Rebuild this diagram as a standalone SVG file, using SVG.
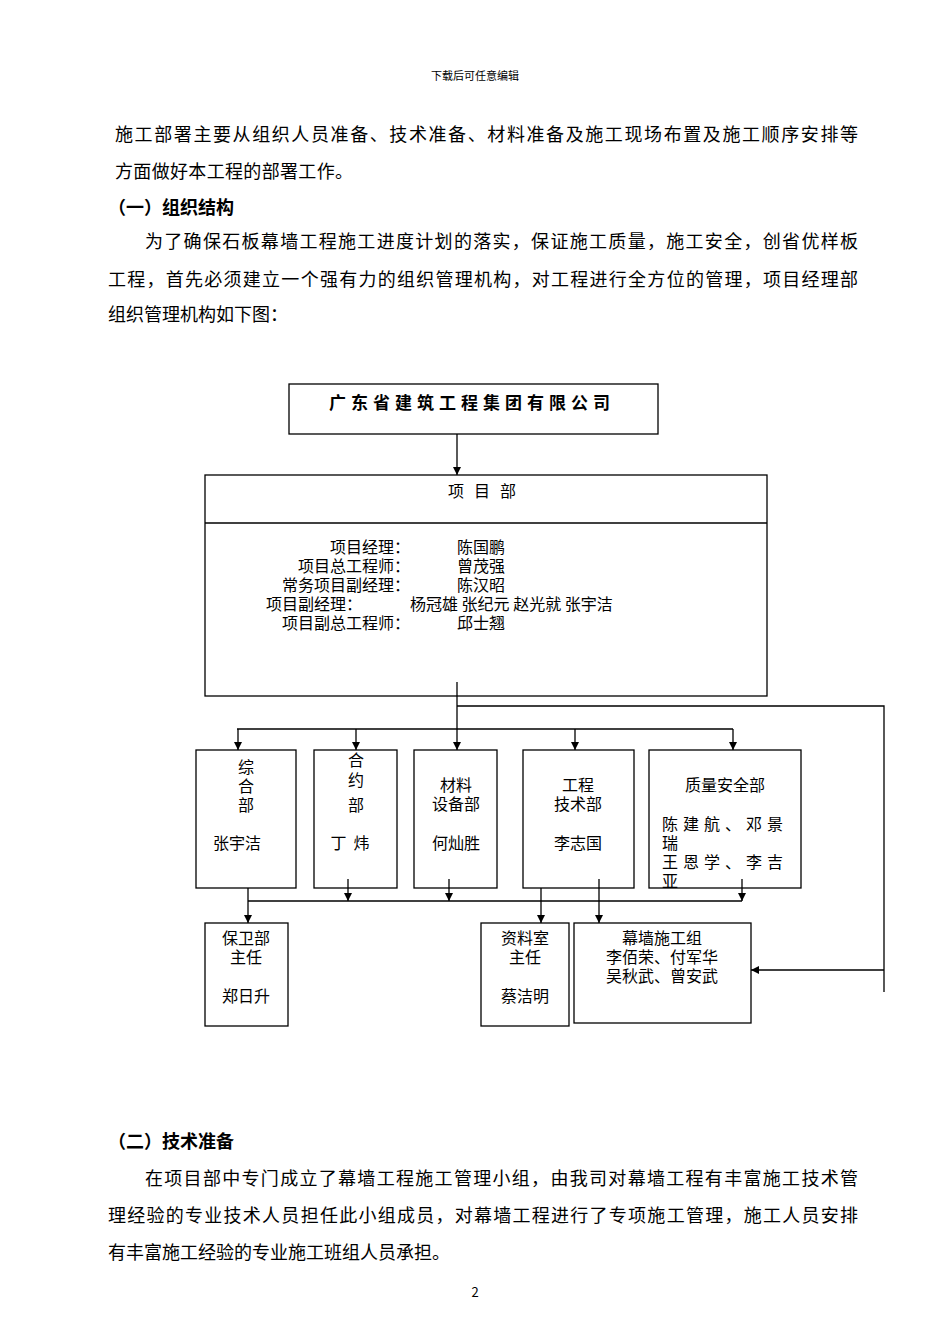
<svg xmlns="http://www.w3.org/2000/svg" width="950" height="1344" viewBox="0 0 950 1344">
<style>
text{font-family:"Noto Sans CJK SC","Noto Sans",sans-serif;fill:#000}
.p{font-size:18px}
.c{font-size:16px}
.m{text-anchor:middle}
.b{fill:#fff;stroke:#000;stroke-width:1.3}
.l{fill:none;stroke:#000;stroke-width:1.3}
</style>
<defs><marker id="a" viewBox="0 0 10 10" refX="10" refY="5" markerWidth="8" markerHeight="8" markerUnits="userSpaceOnUse" orient="auto"><path d="M0,0L10,5L0,10z"/></marker></defs>
<rect width="950" height="1344" fill="#fff"/>
<text x="475" y="80" class="m" font-size="11">下载后可任意编辑</text>
<text x="115" y="141" class="p" textLength="743">施工部署主要从组织人员准备、技术准备、材料准备及施工现场布置及施工顺序安排等</text>
<text x="115" y="178" class="p" textLength="238">方面做好本工程的部署工作。</text>
<text x="108" y="214" class="p" font-weight="bold">（一）组织结构</text>
<text x="145" y="248" class="p" textLength="713">为了确保石板幕墙工程施工进度计划的落实，保证施工质量，施工安全，创省优样板</text>
<text x="108" y="286" class="p" textLength="750">工程，首先必须建立一个强有力的组织管理机构，对工程进行全方位的管理，项目经理部</text>
<text x="108" y="321" class="p" textLength="180">组织管理机构如下图：</text>
<text x="108" y="1148" class="p" font-weight="bold">（二）技术准备</text>
<text x="145" y="1185" class="p" textLength="713">在项目部中专门成立了幕墙工程施工管理小组，由我司对幕墙工程有丰富施工技术管</text>
<text x="108" y="1222" class="p" textLength="750">理经验的专业技术人员担任此小组成员，对幕墙工程进行了专项施工管理，施工人员安排</text>
<text x="108" y="1259" class="p" textLength="342">有丰富施工经验的专业施工班组人员承担。</text>
<text x="475" y="1297" class="m" font-size="13">2</text>
<g id="company"><rect class="b" x="289" y="384" width="369" height="50"/><text x="472" y="409" class="m" font-size="17" font-weight="bold" letter-spacing="5">广东省建筑工程集团有限公司</text></g>
<g id="xmb"><rect class="b" x="205" y="475" width="562" height="221"/><line class="l" x1="205" y1="523" x2="767" y2="523"/>
<text x="487" y="497" class="m c" letter-spacing="10">项目部</text>
<text x="410" y="553" class="c" text-anchor="end">项目经理：</text><text x="457" y="553" class="c">陈国鹏</text>
<text x="410" y="572" class="c" text-anchor="end">项目总工程师：</text><text x="457" y="572" class="c">曾茂强</text>
<text x="410" y="591" class="c" text-anchor="end">常务项目副经理：</text><text x="457" y="591" class="c">陈汉昭</text>
<text x="266" y="610" class="c">项目副经理：</text><text x="410" y="610" class="c">杨冠雄 张纪元 赵光就 张宇洁</text>
<text x="410" y="629" class="c" text-anchor="end">项目副总工程师：</text><text x="457" y="629" class="c">邱士翘</text></g>
<g id="zh"><rect class="b" x="196" y="750" width="100" height="138"/><text class="c m"><tspan x="246" y="773">综</tspan><tspan x="246" y="792">合</tspan><tspan x="246" y="811">部</tspan><tspan x="237" y="849">张宇洁</tspan></text></g>
<g id="hy"><rect class="b" x="314" y="750" width="83" height="138"/><text class="c m"><tspan x="356" y="766">合</tspan><tspan x="356" y="786">约</tspan><tspan x="356" y="811">部</tspan><tspan x="350" y="849" xml:space="preserve">丁  炜</tspan></text></g>
<g id="cl"><rect class="b" x="414" y="750" width="83" height="138"/><text class="c m"><tspan x="456" y="791">材料</tspan><tspan x="456" y="810">设备部</tspan><tspan x="456" y="849">何灿胜</tspan></text></g>
<g id="gc"><rect class="b" x="523" y="750" width="111" height="138"/><text class="c m"><tspan x="578" y="791">工程</tspan><tspan x="578" y="810">技术部</tspan><tspan x="578" y="849">李志国</tspan></text></g>
<g id="zl"><rect class="b" x="649" y="750" width="152" height="138"/><text class="c"><tspan x="725" y="791" text-anchor="middle">质量安全部</tspan><tspan x="662" y="830" letter-spacing="5">陈建航、邓景</tspan><tspan x="662" y="849">瑞</tspan><tspan x="662" y="868" letter-spacing="5">王恩学、李吉</tspan><tspan x="662" y="887">亚</tspan></text></g>
<g id="bw"><rect class="b" x="205" y="923" width="83" height="103"/><text class="c m"><tspan x="246" y="944">保卫部</tspan><tspan x="246" y="963">主任</tspan><tspan x="246" y="1002">郑日升</tspan></text></g>
<g id="zls"><rect class="b" x="481" y="923" width="88" height="103"/><text class="c m"><tspan x="525" y="944">资料室</tspan><tspan x="525" y="963">主任</tspan><tspan x="525" y="1002">蔡洁明</tspan></text></g>
<g id="mq"><rect class="b" x="574" y="923" width="177" height="100"/><text class="c m"><tspan x="662" y="944">幕墙施工组</tspan><tspan x="662" y="963">李佰荣、付军华</tspan><tspan x="662" y="982">吴秋武、曾安武</tspan></text></g>
<g id="connectors" class="l">
<line x1="457" y1="434" x2="457" y2="475" marker-end="url(#a)"/>
<line x1="457" y1="682" x2="457" y2="750" marker-end="url(#a)"/>
<polyline points="457,706 884,706 884,992"/>
<line x1="884" y1="970" x2="751" y2="970" marker-end="url(#a)"/>
<line x1="237" y1="729" x2="733" y2="729"/>
<line x1="238" y1="729" x2="238" y2="750" marker-end="url(#a)"/>
<line x1="356" y1="729" x2="356" y2="750" marker-end="url(#a)"/>
<line x1="575" y1="729" x2="575" y2="750" marker-end="url(#a)"/>
<line x1="733" y1="729" x2="733" y2="750" marker-end="url(#a)"/>
<line x1="248" y1="901" x2="742" y2="901"/>
<line x1="348" y1="879" x2="348" y2="901" marker-end="url(#a)"/>
<line x1="449" y1="879" x2="449" y2="901" marker-end="url(#a)"/>
<line x1="742" y1="879" x2="742" y2="901" marker-end="url(#a)"/>
<line x1="248" y1="888" x2="248" y2="923" marker-end="url(#a)"/>
<line x1="541" y1="888" x2="541" y2="923" marker-end="url(#a)"/>
<line x1="599" y1="879" x2="599" y2="923" marker-end="url(#a)"/>
</g>
</svg>
